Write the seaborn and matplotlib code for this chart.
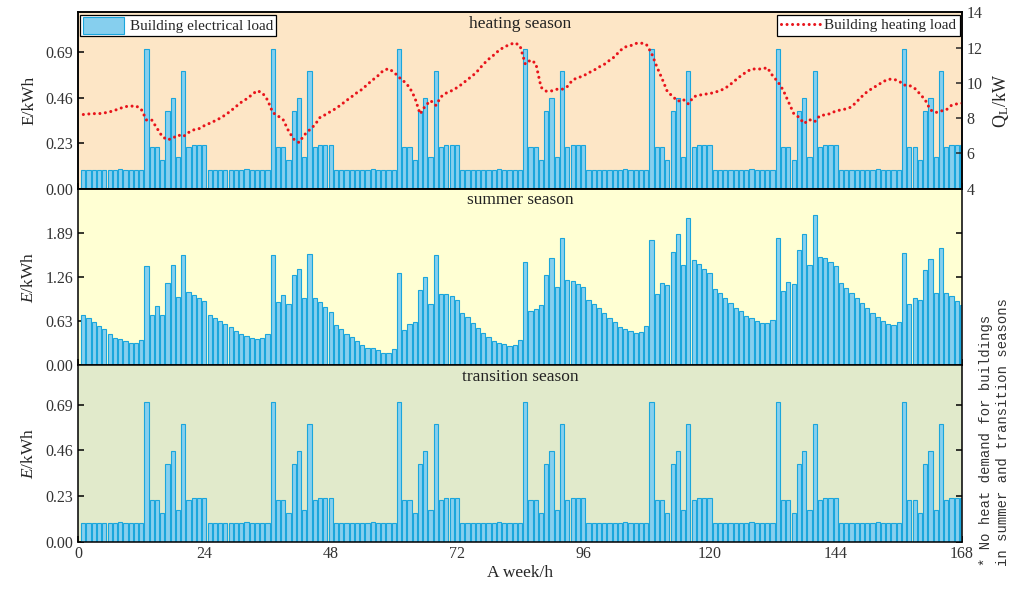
import matplotlib
matplotlib.use("Agg")
import matplotlib.pyplot as plt
from matplotlib.patches import Patch
from matplotlib.lines import Line2D
import seaborn as sns

# hours of the week (bar centres)
hours = list(range(1, 169))
week_ticks = [0, 24, 48, 72, 96, 120, 144, 168]

# building electrical load, heating season (kWh)
elec_heating = [
    0.093, 0.093, 0.093, 0.093, 0.093, 0.093, 0.093, 0.100, 0.093, 0.093, 0.093, 0.093,
    0.705, 0.209, 0.209, 0.144, 0.393, 0.458, 0.159, 0.592, 0.209, 0.219, 0.219, 0.219,
    0.093, 0.093, 0.093, 0.093, 0.093, 0.093, 0.093, 0.100, 0.093, 0.093, 0.093, 0.093,
    0.705, 0.209, 0.209, 0.144, 0.393, 0.458, 0.159, 0.592, 0.209, 0.219, 0.219, 0.219,
    0.093, 0.093, 0.093, 0.093, 0.093, 0.093, 0.093, 0.100, 0.093, 0.093, 0.093, 0.093,
    0.705, 0.209, 0.209, 0.144, 0.393, 0.458, 0.159, 0.592, 0.209, 0.219, 0.219, 0.219,
    0.093, 0.093, 0.093, 0.093, 0.093, 0.093, 0.093, 0.100, 0.093, 0.093, 0.093, 0.093,
    0.705, 0.209, 0.209, 0.144, 0.393, 0.458, 0.159, 0.592, 0.209, 0.219, 0.219, 0.219,
    0.093, 0.093, 0.093, 0.093, 0.093, 0.093, 0.093, 0.100, 0.093, 0.093, 0.093, 0.093,
    0.705, 0.209, 0.209, 0.144, 0.393, 0.458, 0.159, 0.592, 0.209, 0.219, 0.219, 0.219,
    0.093, 0.093, 0.093, 0.093, 0.093, 0.093, 0.093, 0.100, 0.093, 0.093, 0.093, 0.093,
    0.705, 0.209, 0.209, 0.144, 0.393, 0.458, 0.159, 0.592, 0.209, 0.219, 0.219, 0.219,
    0.093, 0.093, 0.093, 0.093, 0.093, 0.093, 0.093, 0.100, 0.093, 0.093, 0.093, 0.093,
    0.705, 0.209, 0.209, 0.144, 0.393, 0.458, 0.159, 0.592, 0.209, 0.219, 0.219, 0.219,
]

# transition season shows the same profile
elec_transition = list(elec_heating)

# building electrical load, summer season (kWh)
elec_summer = [
    0.72, 0.67, 0.62, 0.56, 0.51, 0.45, 0.39, 0.37, 0.35, 0.32, 0.31, 0.36,
    1.41, 0.72, 0.84, 0.72, 1.17, 1.43, 0.98, 1.57, 1.04, 1.00, 0.96, 0.92,
    0.72, 0.68, 0.63, 0.59, 0.55, 0.49, 0.45, 0.42, 0.39, 0.37, 0.39, 0.45,
    1.57, 0.90, 1.00, 0.87, 1.29, 1.37, 0.96, 1.59, 0.96, 0.90, 0.83, 0.76,
    0.58, 0.51, 0.45, 0.40, 0.35, 0.29, 0.25, 0.25, 0.21, 0.18, 0.18, 0.23,
    1.32, 0.50, 0.59, 0.61, 1.08, 1.26, 0.88, 1.57, 1.02, 1.02, 0.99, 0.93,
    0.74, 0.69, 0.60, 0.53, 0.46, 0.40, 0.35, 0.32, 0.30, 0.27, 0.29, 0.36,
    1.47, 0.78, 0.80, 0.86, 1.29, 1.53, 1.12, 1.81, 1.22, 1.20, 1.16, 1.11,
    0.93, 0.88, 0.81, 0.74, 0.68, 0.62, 0.55, 0.52, 0.49, 0.46, 0.48, 0.56,
    1.79, 1.02, 1.18, 1.14, 1.62, 1.87, 1.43, 2.10, 1.50, 1.44, 1.38, 1.32,
    1.09, 1.03, 0.96, 0.89, 0.82, 0.77, 0.70, 0.67, 0.63, 0.60, 0.60, 0.65,
    1.81, 1.06, 1.19, 1.16, 1.65, 1.87, 1.43, 2.14, 1.55, 1.53, 1.48, 1.41,
    1.17, 1.10, 1.03, 0.96, 0.89, 0.81, 0.74, 0.69, 0.63, 0.59, 0.58, 0.61,
    1.60, 0.88, 0.96, 0.93, 1.36, 1.51, 1.03, 1.68, 1.03, 0.99, 0.92, 0.86,
]

# building heating load, heating season (kW)
heat_load = [
    8.21, 8.24, 8.26, 8.26, 8.30, 8.36, 8.45, 8.56, 8.66, 8.68, 8.70, 8.51,
    7.90, 7.90, 7.43, 6.96, 6.77, 6.87, 7.05, 6.96, 7.19, 7.34, 7.41, 7.58,
    7.71, 7.85, 8.00, 8.19, 8.41, 8.66, 8.90, 9.09, 9.32, 9.56, 9.45, 9.04,
    8.32, 8.13, 7.90, 7.28, 6.81, 6.62, 7.05, 7.34, 7.62, 8.05, 8.20, 8.38,
    8.55, 8.77, 9.00, 9.22, 9.45, 9.64, 9.92, 10.17, 10.41, 10.70, 10.81, 10.62,
    10.32, 10.07, 9.75, 9.17, 8.24, 8.70, 9.00, 8.73, 9.22, 9.43, 9.56, 9.73,
    9.94, 10.19, 10.41, 10.70, 11.05, 11.34, 11.58, 11.85, 12.04, 12.17, 12.28, 12.11,
    11.07, 11.30, 11.11, 9.75, 9.53, 9.55, 9.64, 9.64, 9.80, 10.17, 10.30, 10.39,
    10.57, 10.71, 10.90, 11.05, 11.28, 11.49, 11.83, 12.04, 12.11, 12.24, 12.26, 12.19,
    11.68, 10.92, 10.24, 9.51, 9.24, 8.96, 9.07, 8.81, 9.22, 9.30, 9.36, 9.39,
    9.47, 9.56, 9.70, 9.92, 10.17, 10.41, 10.62, 10.79, 10.79, 10.79, 10.87, 10.41,
    10.07, 9.60, 8.94, 8.28, 8.05, 7.70, 7.92, 7.80, 8.15, 8.19, 8.26, 8.41,
    8.47, 8.53, 8.64, 8.94, 9.24, 9.51, 9.70, 9.88, 10.07, 10.21, 10.21, 10.11,
    9.88, 9.86, 9.70, 9.38, 9.04, 8.47, 8.32, 8.41, 8.47, 8.73, 8.81, 8.85,
]

bar_face = "#86cfee"
bar_edge = "#1aa6dc"
heat_color = "#e8141b"

sns.set_theme(style="ticks")
plt.rcParams["font.family"] = ["Liberation Serif", "DejaVu Serif"]
plt.rcParams["mathtext.fontset"] = "custom"
plt.rcParams["mathtext.rm"] = "Liberation Serif"
plt.rcParams["mathtext.it"] = "Liberation Serif:italic"
plt.rcParams["axes.linewidth"] = 1.1
plt.rcParams["axes.edgecolor"] = "black"

fig, axes = plt.subplots(3, 1, figsize=(10.14, 5.90), dpi=100, sharex=True)
fig.subplots_adjust(left=0.077, right=0.9487, top=0.979, bottom=0.0822, hspace=0)

panels = [
    (axes[0], elec_heating, "heating season", "#fde6c6", [0, 0.23, 0.46, 0.69], 0.89, "E/kWh"),
    (axes[1], elec_summer, "summer season", "#ffffd3", [0, 0.63, 1.26, 1.89], 2.52, "$E$/kWh"),
    (axes[2], elec_transition, "transition season", "#e1eacb", [0, 0.23, 0.46, 0.69], 0.89, "$E$/kWh"),
]

for ax, vals, title, bg, yt, ytop, ylab in panels:
    ax.set_facecolor(bg)
    sns.barplot(x=hours, y=vals, native_scale=True, ax=ax, color=bar_face,
                edgecolor=bar_edge, linewidth=0.8, saturation=1, errorbar=None,
                width=0.8)
    ax.set_xlim(0, 168)
    ax.set_ylim(0, ytop)
    ax.set_yticks(yt)
    ax.set_yticklabels([f"{v:.2f}" for v in yt])
    ax.set_ylabel(ylab, fontsize=12.5, labelpad=6)
    ax.text(0.5, 0.935, title, transform=ax.transAxes, ha="center", va="center",
            fontsize=12.5, color="#222222")
    ax.tick_params(direction="in", length=4, width=1.1, labelsize=11.5,
                   right=(ax is not axes[0]), top=False, colors="black",
                   labelcolor="#333333")
    for sp in ax.spines.values():
        sp.set_visible(True)
        sp.set_linewidth(1.1)

axes[2].set_xticks(week_ticks)
axes[2].set_xticklabels([str(t) for t in week_ticks])
axes[2].set_xlabel("A week/h", fontsize=12.5, labelpad=2)
for ax in axes[:2]:
    ax.set_xlabel("")

# heating load on a second axis
ax2 = axes[0].twinx()
sns.lineplot(x=hours, y=heat_load, ax=ax2, color=heat_color, linewidth=2.2,
             linestyle=(0, (0.01, 1.8)), dash_capstyle="round", legend=False)
ax2.set_ylim(4, 14)
ax2.set_yticks([4, 6, 8, 10, 12, 14])
ax2.set_ylabel(r"Q$_\mathrm{L}$/kW", fontsize=13, labelpad=6)
ax2.tick_params(direction="in", length=4, width=1.1, labelsize=11.5, labelcolor="#333333")
ax2.set_xlim(0, 168)

leg1 = axes[0].legend(handles=[Patch(facecolor=bar_face, edgecolor=bar_edge, linewidth=0.8)],
                      labels=["Building electrical load"], loc="upper left",
                      fontsize=11, frameon=True, fancybox=False, framealpha=1,
                      edgecolor="black", borderaxespad=0.15, borderpad=0.15,
                      handlelength=2.7, handleheight=1.3, handletextpad=0.4)
leg1.get_frame().set_linewidth(0.9)

leg2 = ax2.legend(handles=[Line2D([0], [0], color=heat_color, linewidth=2.2,
                                  linestyle=(0, (0.01, 1.8)), dash_capstyle="round")],
                  labels=["Building heating load"], loc="upper right",
                  fontsize=11, frameon=True, fancybox=False, framealpha=1,
                  edgecolor="black", borderaxespad=0.15, borderpad=0.25,
                  handlelength=2.6, handletextpad=0.2)
leg2.get_frame().set_linewidth(0.9)

fig.text(0.981, 0.04, "* No heat demand for buildings\nin summer and transition seasons",
         rotation=90, ha="center", va="bottom", multialignment="left",
         family=["Liberation Mono", "DejaVu Sans Mono"], fontsize=10, color="#333333",
         linespacing=1.3)

fig.savefig("out.png", dpi=100)
